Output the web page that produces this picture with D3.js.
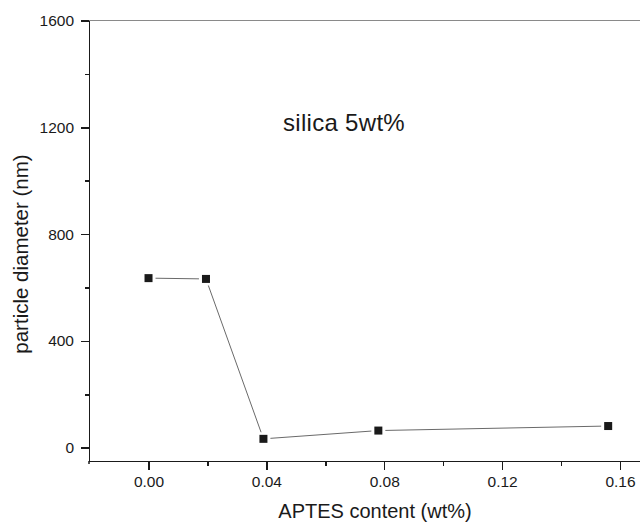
<!DOCTYPE html>
<html lang="en">
<head>
<meta charset="utf-8">
<title>particle diameter vs APTES content</title>
<script src="https://cdn.jsdelivr.net/npm/d3@7/dist/d3.min.js"></script>
<style>
  body { margin: 0; background: #fff; }
  svg text { font-family: "Liberation Sans", Arial, sans-serif; fill: #1a1a1a; }
  .axis path, .axis line { stroke: #1a1a1a; stroke-width: 1.5px; shape-rendering: crispEdges; }
  .axis text { font-size: 15.5px; }
</style>
</head>
<body>
<script>
// data
var aptes = [0, 0.0195, 0.039, 0.078, 0.156];
var diameter = [635, 632, 33, 64, 81];
var xMajor = [0, 0.04, 0.08, 0.12, 0.16];
var xMinor = [0.02, 0.06, 0.10, 0.14];
var yMajor = [0, 400, 800, 1200, 1600];
var yMinor = [200, 600, 1000, 1400];
var label = "silica 5wt%";

var W = 640, H = 524;
var m = {left: 89, right: 640, top: 20.5, bottom: 461};

var svg = d3.select("body").append("svg")
  .attr("width", W)
  .attr("height", H);

var x = d3.scaleLinear().domain([-0.0202, 0.1668]).range([m.left, m.right]);
var y = d3.scaleLinear().domain([-50, 1600]).range([m.bottom, m.top]);

// top frame line (grey)
svg.append("line")
  .attr("x1", m.left).attr("x2", m.right)
  .attr("y1", y(1600)).attr("y2", y(1600))
  .attr("stroke", "#8a8a8a")
  .attr("stroke-width", 1.2);

// minor ticks first
svg.append("g")
  .attr("class", "axis")
  .attr("transform", "translate(0," + m.bottom + ")")
  .call(d3.axisBottom(x).tickValues(xMinor).tickSize(5).tickSizeOuter(0).tickFormat(""))
  .select(".domain").remove();

svg.append("g")
  .attr("class", "axis")
  .attr("transform", "translate(" + m.left + ",0)")
  .call(d3.axisLeft(y).tickValues(yMinor).tickSize(4).tickSizeOuter(0).tickFormat(""))
  .select(".domain").remove();

// major axes
svg.append("g")
  .attr("class", "axis")
  .attr("transform", "translate(0," + m.bottom + ")")
  .call(d3.axisBottom(x).tickValues(xMajor).tickSize(9).tickSizeOuter(0).tickPadding(6)
    .tickFormat(d3.format(".2f")));

svg.append("g")
  .attr("class", "axis")
  .attr("transform", "translate(" + m.left + ",0)")
  .call(d3.axisLeft(y).tickValues(yMajor).tickSize(8).tickSizeOuter(0).tickPadding(7)
    .tickFormat(d3.format("d")));

// let the left axis run a little past the bottom axis, like the original
svg.append("line")
  .attr("x1", m.left).attr("x2", m.left)
  .attr("y1", m.bottom).attr("y2", m.bottom + 3)
  .attr("stroke", "#1a1a1a").attr("stroke-width", 1.5);

// connecting line, drawn as segments with small gaps at the markers
var pts = aptes.map(function(d, i) { return [x(d), y(diameter[i])]; });
var gap = 7;
for (var i = 0; i < pts.length - 1; i++) {
  var a = pts[i], b = pts[i + 1];
  var dx = b[0] - a[0], dy = b[1] - a[1];
  var len = Math.sqrt(dx * dx + dy * dy);
  svg.append("line")
    .attr("x1", a[0] + dx / len * gap)
    .attr("y1", a[1] + dy / len * gap)
    .attr("x2", b[0] - dx / len * gap)
    .attr("y2", b[1] - dy / len * gap)
    .attr("stroke", "#6a6a6a")
    .attr("stroke-width", 1);
}

// square markers
svg.selectAll("rect.pt")
  .data(aptes)
  .enter().append("rect")
  .attr("class", "pt")
  .attr("x", function(d) { return x(d) - 4; })
  .attr("y", function(d, i) { return y(diameter[i]) - 4; })
  .attr("width", 8)
  .attr("height", 8)
  .attr("fill", "#1a1a1a");

// annotation
svg.append("text")
  .attr("x", 283)
  .attr("y", 131)
  .style("font-size", "24px")
  .style("letter-spacing", "0.3px")
  .text(label);

// axis titles
svg.append("text")
  .attr("x", 375)
  .attr("y", 518)
  .attr("text-anchor", "middle")
  .style("font-size", "20px")
  .text("APTES content (wt%)");

svg.append("text")
  .attr("transform", "translate(28," + 254 + ") rotate(-90)")
  .attr("text-anchor", "middle")
  .style("font-size", "20.5px")
  .text("particle diameter (nm)");
</script>
</body>
</html>
